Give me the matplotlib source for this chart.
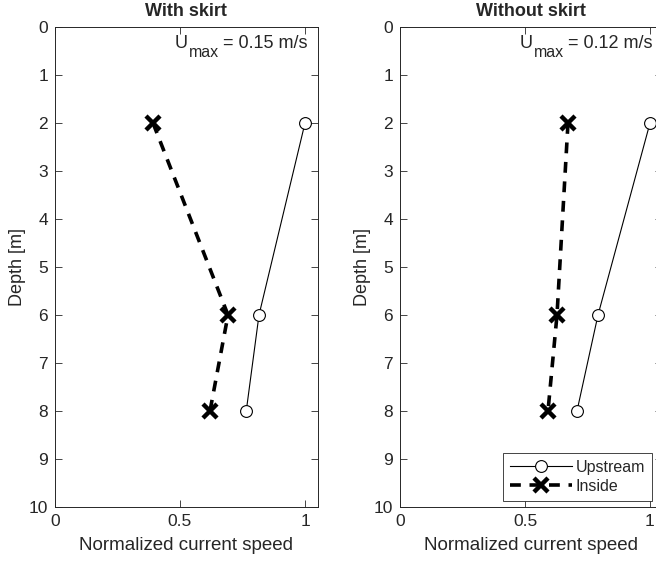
import matplotlib.pyplot as plt
from matplotlib.transforms import offset_copy

plt.rcParams['font.family'] = ['Liberation Sans', 'DejaVu Sans']
plt.rcParams['font.size'] = 12

depth = [2, 6, 8]
titles = ['With skirt', 'Without skirt']
umax_values = ['= 0.15 m/s', '= 0.12 m/s']
upstream = [[1.0, 0.816, 0.765], [1.0, 0.792, 0.708]]
inside = [[0.392, 0.692, 0.62], [0.672, 0.628, 0.592]]
xticks = [0, 0.5, 1]
xticklabels = ['0', '0.5', '1']
yticks = list(range(0, 11))

GREY = '#262626'

fig = plt.figure(figsize=(6.56, 5.62), dpi=100)
W, H = 656, 562
boxes = [[55, 27, 262.5, 480], [400, 27, 262.5, 480]]
renderer = fig.canvas.get_renderer()


def add_umax(ax, value):
    # U_max label built from three pieces so the subscript stays large
    base = offset_copy(ax.transAxes, fig=fig, x=-10, y=0, units='dots')
    y = 1 - 21 / 480
    t3 = ax.text(1.0, y, value, ha='right', va='baseline', color=GREY,
                 fontsize=13, transform=base)
    w3 = t3.get_window_extent(renderer).width
    sub = offset_copy(ax.transAxes, fig=fig, x=-10 - w3 - 4, y=-9,
                      units='dots')
    t2 = ax.text(1.0, y, 'max', ha='right', va='baseline', color=GREY,
                 fontsize=11.5, transform=sub)
    w2 = t2.get_window_extent(renderer).width
    up = offset_copy(ax.transAxes, fig=fig, x=-10 - w3 - 4 - w2 - 1, y=0,
                     units='dots')
    ax.text(1.0, y, 'U', ha='right', va='baseline', color=GREY,
            fontsize=13, transform=up)


for i, (x0, y0, w, h) in enumerate(boxes):
    ax = fig.add_axes([x0 / W, 1 - (y0 + h) / H, w / W, h / H])
    ax.plot(upstream[i], depth, color='black', lw=0.8, marker='o',
            markersize=8.5, markerfacecolor='white', markeredgewidth=0.8,
            label='Upstream')
    ax.plot(inside[i], depth, color='black', lw=2.6, ls=(0, (3, 2.4)),
            marker='x', markersize=9.5, markeredgewidth=3.2, label='Inside')
    ax.set_xlim(0, 1.05)
    ax.set_ylim(10, 0)
    ax.set_xticks(xticks)
    ax.set_xticklabels(xticklabels)
    ax.set_yticks(yticks)
    ax.tick_params(direction='in', top=True, right=True, colors=GREY,
                   labelcolor=GREY, length=5, width=0.6, labelsize=12.5)
    ax.tick_params(axis='x', pad=5)
    ax.tick_params(axis='y', pad=5)
    for s in ax.spines.values():
        s.set_color(GREY)
        s.set_linewidth(0.7)
    ax.set_xlabel('Normalized current speed', color=GREY, fontsize=13.5,
                  labelpad=6)
    ax.set_ylabel('Depth [m]', color=GREY, fontsize=13, labelpad=2)
    ax.set_title(titles[i], fontweight='bold', color=GREY, fontsize=13,
                 pad=8)
    add_umax(ax, umax_values[i])
    if i == 1:
        leg = ax.legend(loc='lower right',
                        bbox_to_anchor=(652 / W, 1 - 501 / H),
                        bbox_transform=fig.transFigure, borderaxespad=0,
                        fontsize=11.5, frameon=True, fancybox=False,
                        edgecolor=GREY, framealpha=1, borderpad=0.45,
                        handlelength=3.9, handletextpad=0.2,
                        labelspacing=0.25)
        leg.get_frame().set_linewidth(0.6)
        for t in leg.get_texts():
            t.set_color(GREY)

fig.savefig('out.png', dpi=100)
